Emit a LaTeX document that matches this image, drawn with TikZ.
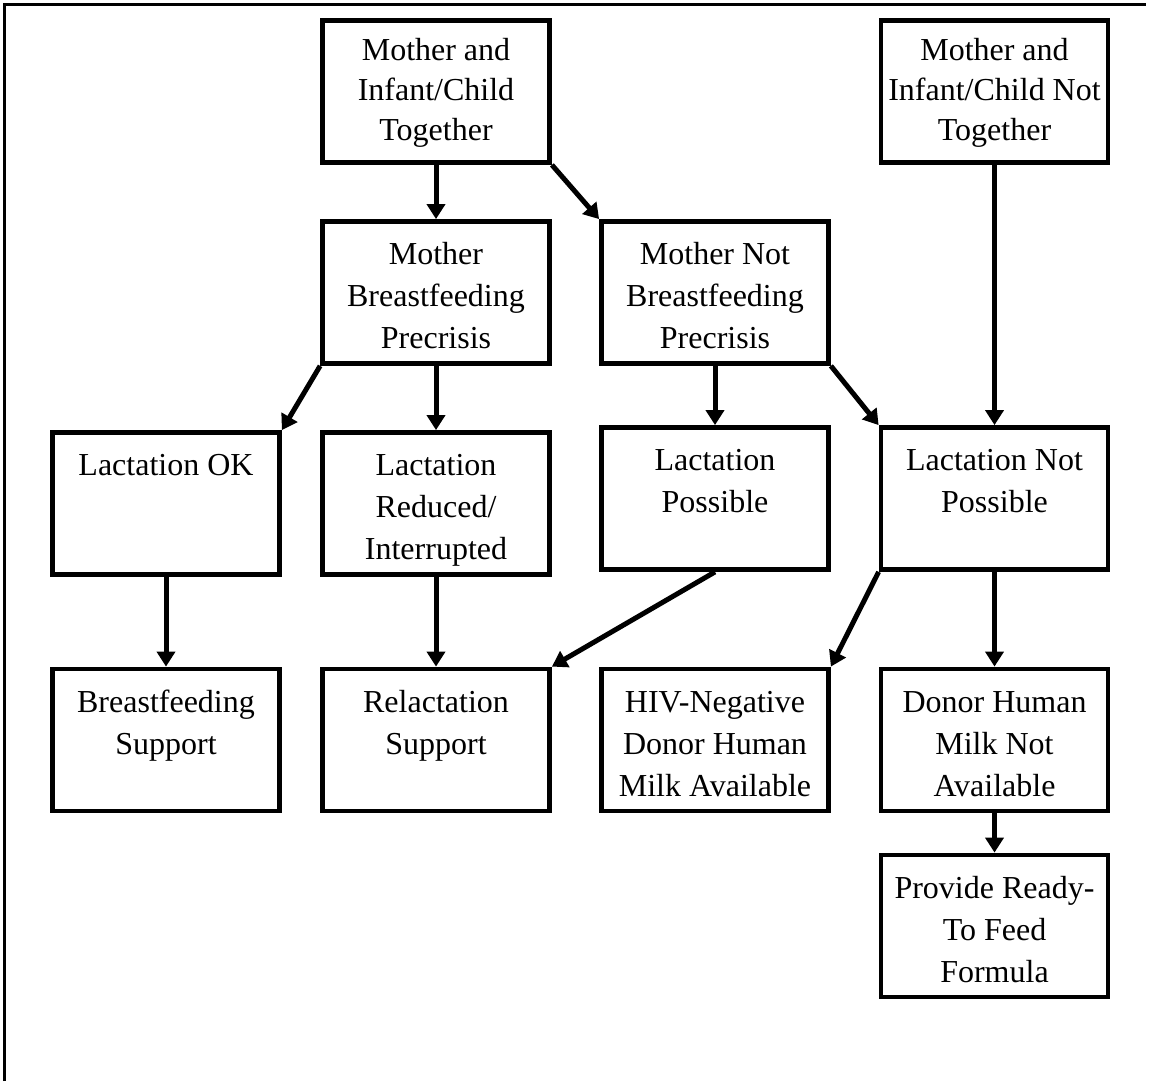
\documentclass[tikz,border=0pt]{standalone}
\usepackage{fontspec}
\setmainfont{Liberation Serif}
\usetikzlibrary{arrows.meta}

\begin{document}
\begin{tikzpicture}[x=0.5pt,y=-0.5pt,
        box/.style={draw,line width=2.4pt,text width=112pt,align=flush center,
          inner xsep=0.75pt,inner ysep=0pt,text height=21.5pt,text depth=49.5pt,
          minimum width=113.5pt,minimum height=71pt,font=\fontsize{16}{21}\selectfont},
        headbox/.style={box,text height=20pt,text depth=51pt,font=\fontsize{16}{20}\selectfont},
        arr/.style={line width=2.5pt,->},
        >={Triangle[width=9pt,length=7.5pt]}]
        \useasboundingbox (0,0) rectangle (1149,1081);
        \def\ca{166}
        \def\cb{436}
        \def\cc{715}
        \def\cd{994.5}
        % frame
        \draw[line width=1.8pt] (4.5,1081) -- (4.5,4.5) -- (1146,4.5);
        % boxes
        \node[headbox] (tog) at (\cb,91.5) {Mother and\\Infant/Child\\Together};
        \node[headbox] (ntog) at (\cd,91.5) {Mother and\\Infant/Child Not\\Together};
        \node[box] (bf) at (\cb,292.5) {Mother\\Breastfeeding\\Precrisis};
        \node[box] (nbf) at (\cc,292.5) {Mother Not\\Breastfeeding\\Precrisis};
        \node[box] (lok) at (\ca,503.5) {Lactation OK};
        \node[box] (lred) at (\cb,503.5) {Lactation\\Reduced/\\Interrupted};
        \node[box] (lpos) at (\cc,498.5) {Lactation\\Possible};
        \node[box] (lnot) at (\cd,498.5) {Lactation Not\\Possible};
        \node[box] (bsup) at (\ca,740) {Breastfeeding\\Support};
        \node[box] (rsup) at (\cb,740) {Relactation\\Support};
        \node[box] (hiv) at (\cc,740) {HIV-Negative\\Donor Human\\Milk Available};
        \node[box] (nodon) at (\cd,740) {Donor Human\\Milk Not\\Available};
        \node[box] (rtf) at (\cd,926) {Provide Ready-\\To Feed\\Formula};
        % arrows
        \draw[arr] (tog) -- (bf);
        \draw[arr] (tog.south east) -- (nbf.north west);
        \draw[arr] (ntog) -- (lnot);
        \draw[arr] (bf.south west) -- (lok.north east);
        \draw[arr] (bf) -- (lred);
        \draw[arr] (nbf) -- (lpos);
        \draw[arr] (nbf.south east) -- (lnot.north west);
        \draw[arr] (lok) -- (bsup);
        \draw[arr] (lred) -- (rsup);
        \draw[arr] (lpos.south) -- (rsup.north east);
        \draw[arr] (lnot.south west) -- (hiv.north east);
        \draw[arr] (lnot) -- (nodon);
        \draw[arr] (nodon) -- (rtf);
\end{tikzpicture}
\end{document}
